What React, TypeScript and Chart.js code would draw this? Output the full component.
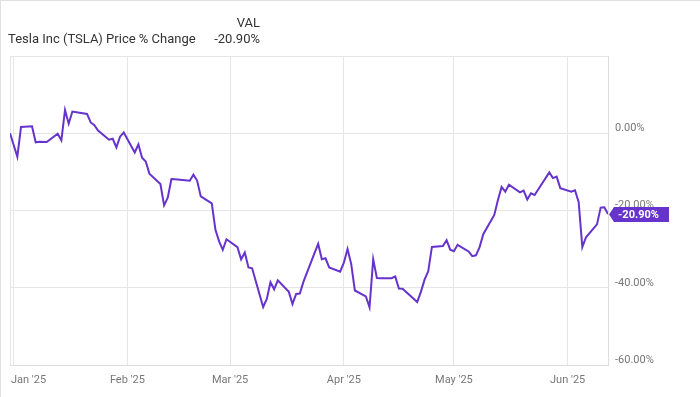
import React, { useEffect, useRef } from "react";
import { Chart, registerables } from "chart.js";

Chart.register(...registerables);

const title = "Tesla Inc (TSLA) Price % Change";
const valHeader = "VAL";
const lastValueLabel = "-20.90%";

const dates = [
  "2024-12-31",
  "2025-01-02", "2025-01-03", "2025-01-06", "2025-01-07", "2025-01-08", "2025-01-10",
  "2025-01-13", "2025-01-14", "2025-01-15", "2025-01-16", "2025-01-17", "2025-01-21",
  "2025-01-22", "2025-01-23", "2025-01-24", "2025-01-27", "2025-01-28", "2025-01-29",
  "2025-01-30", "2025-01-31",
  "2025-02-03", "2025-02-04", "2025-02-05", "2025-02-06", "2025-02-07", "2025-02-10",
  "2025-02-11", "2025-02-12", "2025-02-13", "2025-02-14", "2025-02-18", "2025-02-19",
  "2025-02-20", "2025-02-21", "2025-02-24", "2025-02-25", "2025-02-26", "2025-02-27",
  "2025-02-28",
  "2025-03-03", "2025-03-04", "2025-03-05", "2025-03-06", "2025-03-07", "2025-03-10",
  "2025-03-11", "2025-03-12", "2025-03-13", "2025-03-14", "2025-03-17", "2025-03-18",
  "2025-03-19", "2025-03-20", "2025-03-21", "2025-03-24", "2025-03-25", "2025-03-26",
  "2025-03-27", "2025-03-28", "2025-03-31",
  "2025-04-01", "2025-04-02", "2025-04-03", "2025-04-04", "2025-04-07", "2025-04-08",
  "2025-04-09", "2025-04-10", "2025-04-11", "2025-04-14", "2025-04-15", "2025-04-16",
  "2025-04-17", "2025-04-21", "2025-04-22", "2025-04-23", "2025-04-24", "2025-04-25",
  "2025-04-28", "2025-04-29", "2025-04-30",
  "2025-05-01", "2025-05-02", "2025-05-05", "2025-05-06", "2025-05-07", "2025-05-08",
  "2025-05-09", "2025-05-12", "2025-05-13", "2025-05-14", "2025-05-15", "2025-05-16",
  "2025-05-19", "2025-05-20", "2025-05-21", "2025-05-22", "2025-05-23", "2025-05-27",
  "2025-05-28", "2025-05-29", "2025-05-30",
  "2025-06-02", "2025-06-03", "2025-06-04", "2025-06-05", "2025-06-06", "2025-06-09",
  "2025-06-10", "2025-06-11", "2025-06-12",
];

const pctChange = [
  0,
  -6.08, 1.63, 1.79, -2.35, -2.2, -2.25,
  -0.13, -1.85, 6.04, 2.47, 5.61, 5.01,
  2.79, 2.11, 0.68, -1.66, -1.42, -3.65,
  -0.88, 0.19,
  -4.99, -2.88, -6.36, -7.31, -10.45, -13.15,
  -18.66, -16.67, -11.86, -11.89, -12.31, -10.72,
  -12.24, -16.35, -18.15, -25.02, -27.99, -30.18,
  -27.45,
  -29.51, -32.64, -30.89, -34.76, -34.96, -44.99,
  -42.9, -38.57, -40.4, -38.1, -41.06, -44.21,
  -41.6, -41.5, -38.41, -31.06, -28.65, -32.63,
  -32.37, -34.74, -35.83,
  -33.52, -29.98, -33.82, -40.71, -42.23, -45.06,
  -32.6, -37.5, -37.52, -37.51, -37.08, -40.19,
  -40.23, -43.67, -41.07, -37.91, -35.74, -29.44,
  -29.21, -27.69, -30.13,
  -30.54, -28.88, -30.6, -31.82, -31.6, -29.47,
  -26.14, -21.16, -17.28, -13.91, -15.11, -13.34,
  -15.29, -14.86, -17.14, -15.55, -15.97, -10.14,
  -11.62, -11.24, -14.21,
  -15.14, -14.75, -17.78, -29.5, -26.92, -23.59,
  -19.25, -19.17, -20.9,
];

const monthTicks = ["2025-01-01", "2025-02-01", "2025-03-01", "2025-04-01", "2025-05-01", "2025-06-01"];
const monthLabels = ["Jan '25", "Feb '25", "Mar '25", "Apr '25", "May '25", "Jun '25"];
const yTickValues = [20, 0, -20, -40, -60];

const dayNum = (s: string) => {
  const [y, m, d] = s.split("-").map(Number);
  return (Date.UTC(y, m - 1, d) - Date.UTC(2025, 0, 1)) / 86400000;
};

const LINE_COLOR = "#6633cc";
const GRID = "#e6e6e6";
const FONT = "Roboto, 'Noto Sans', sans-serif";

export default function App() {
  const ref = useRef<HTMLCanvasElement | null>(null);

  useEffect(() => {
    document.body.style.margin = "0";
    const canvas = ref.current;
    if (!canvas) return;
    const xMin = dayNum(dates[0]);
    const xMax = dayNum(dates[dates.length - 1]);
    const points = dates.map((d, i) => ({ x: dayNum(d), y: pctChange[i] }));

    const overlay = {
      id: "overlay",
      afterDraw(chart: any) {
        const ctx = chart.ctx;
        const area = chart.chartArea;
        const xs = chart.scales.x;
        const ys = chart.scales.y;
        ctx.save();
        // x labels
        ctx.font = `11px ${FONT}`;
        ctx.fillStyle = "#777";
        ctx.textBaseline = "middle";
        monthTicks.forEach((m, i) => {
          const px = xs.getPixelForValue(dayNum(m));
          if (i === 0) {
            ctx.textAlign = "left";
            ctx.fillText(monthLabels[i], area.left + 1, 380);
          } else {
            ctx.textAlign = "center";
            ctx.fillText(monthLabels[i], px, 380);
          }
        });
        // end label
        const last = pctChange[pctChange.length - 1];
        const py = Math.round(ys.getPixelForValue(last)) + 0.5;
        const tipX = area.right + 1;
        const h = 7.5;
        ctx.fillStyle = LINE_COLOR;
        ctx.beginPath();
        ctx.moveTo(tipX, py);
        ctx.lineTo(tipX + 5, py - h);
        ctx.lineTo(tipX + 60, py - h);
        ctx.lineTo(tipX + 60, py + h);
        ctx.lineTo(tipX + 5, py + h);
        ctx.closePath();
        ctx.fill();
        ctx.fillStyle = "#ffffff";
        ctx.font = `bold 11px ${FONT}`;
        ctx.textAlign = "left";
        ctx.textBaseline = "middle";
        ctx.fillText(lastValueLabel, tipX + 9, py + 0.5);
        ctx.restore();
      },
    };

    const chart = new Chart(canvas, {
      type: "line",
      data: {
        datasets: [
          {
            data: points,
            borderColor: LINE_COLOR,
            borderWidth: 2,
            pointRadius: 0,
            tension: 0,
            fill: false,
          },
        ],
      },
      options: {
        animation: false,
        responsive: false,
        maintainAspectRatio: false,
        layout: { padding: { left: 10, top: 56, right: 0, bottom: 0 } },
        plugins: {
          legend: { display: false },
          tooltip: { enabled: false },
        },
        scales: {
          x: {
            type: "linear",
            min: xMin,
            max: xMax,
            afterBuildTicks: (scale: any) => {
              scale.ticks = [{ value: xMin }, ...monthTicks.map((m) => ({ value: dayNum(m) }))];
            },
            afterFit: (scale: any) => {
              scale.height = 32;
            },
            ticks: { display: false },
            grid: { color: GRID, drawTicks: false, lineWidth: 1 },
            border: { color: "#dddddd" },
          },
          y: {
            position: "right",
            min: -60,
            max: 20,
            afterBuildTicks: (scale: any) => {
              scale.ticks = yTickValues.map((v) => ({ value: v }));
            },
            afterFit: (scale: any) => {
              scale.width = 92;
            },
            ticks: {
              padding: 7,
              labelOffset: -5,
              color: "#777",
              font: { family: FONT, size: 11 },
              callback: (v: any) => (Number(v) === 20 ? "" : Number(v).toFixed(2) + "%"),
            },
            grid: { color: GRID, drawTicks: false, lineWidth: 1 },
            border: { color: "#dddddd" },
          },
        },
      },
      plugins: [overlay],
    });
    return () => chart.destroy();
  }, []);

  const textStyle: React.CSSProperties = {
    position: "absolute",
    fontFamily: FONT,
    fontSize: 13,
    lineHeight: "15px",
    color: "#333",
    whiteSpace: "nowrap",
  };

  return (
    <div
      style={{
        position: "fixed",
        left: 0,
        top: 0,
        width: 700,
        height: 397,
        background: "#fff",
        overflow: "hidden",
      }}
    >
      <canvas ref={ref} width={700} height={397} style={{ position: "absolute", left: 0, top: 0, width: 700, height: 397 }} />
      <div style={{ ...textStyle, left: 8, top: 31 }}>{title}</div>
      <div style={{ ...textStyle, right: 440, top: 15, textAlign: "right" }}>{valHeader}</div>
      <div style={{ ...textStyle, right: 440, top: 31, textAlign: "right" }}>{lastValueLabel}</div>
      <div
        style={{
          position: "absolute",
          left: 0,
          top: 0,
          width: 700,
          height: 397,
          boxSizing: "border-box",
          borderTop: "1px solid #e0e0e0",
          borderLeft: "1px solid #e0e0e0",
          pointerEvents: "none",
        }}
      />
    </div>
  );
}
